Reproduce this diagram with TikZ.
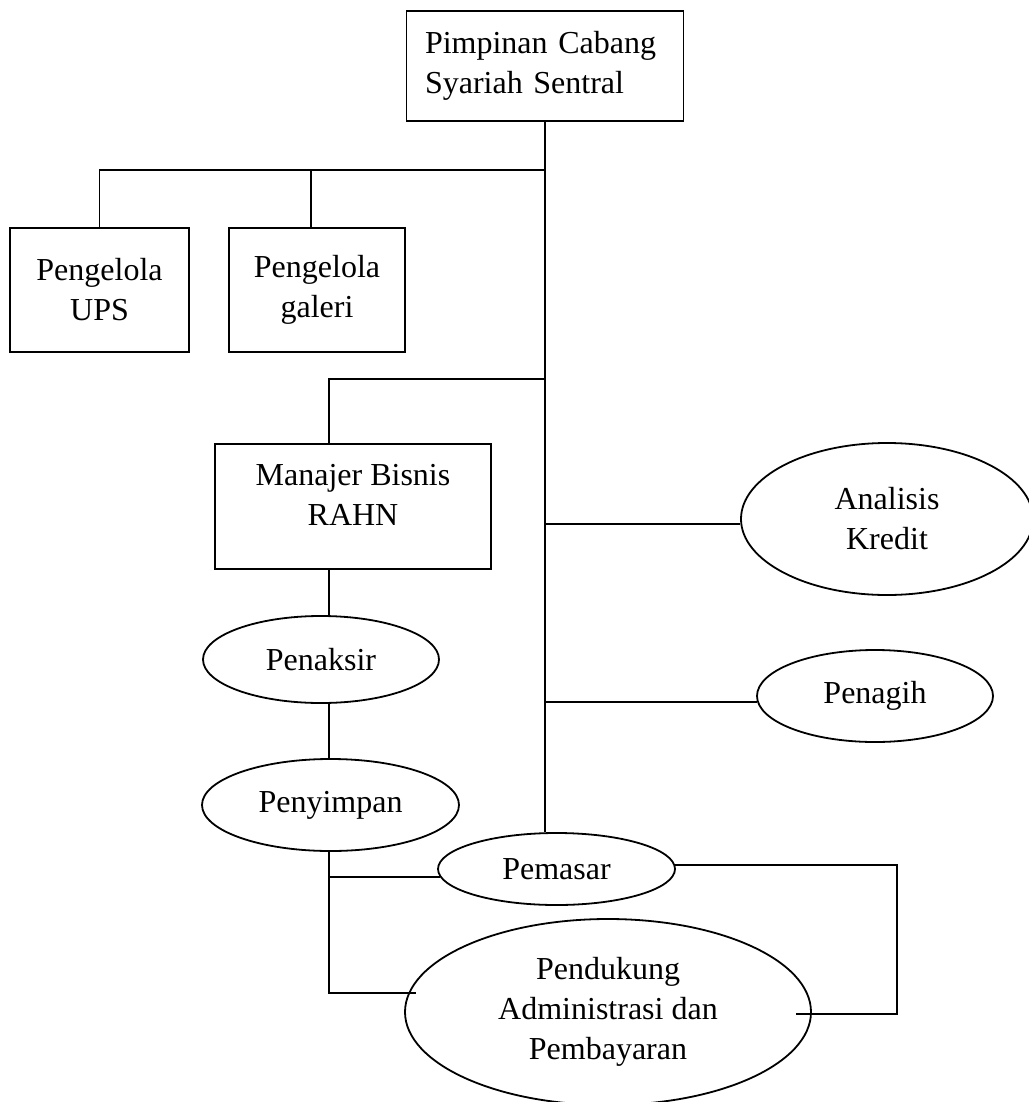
\documentclass[tikz,border=0pt]{standalone}
\usepackage{fontspec}
\setmainfont{Liberation Serif}
\usetikzlibrary{shapes.geometric}
\begin{document}
\begin{tikzpicture}[x=0.5pt,y=-0.5pt,line width=0.9pt,
  every node/.style={font=\fontsize{16}{20}\selectfont},
  box/.style={draw,rectangle,inner sep=0pt,align=center},
  oval/.style={draw,ellipse,inner sep=0pt,align=center}]
\useasboundingbox (0,0) rectangle (1028,1102);
% boxes
\node[box,minimum width=138.5pt,minimum height=55pt,text width=120pt,align=left] (top) at (545,66) {Pimpinan Cabang\\Syariah Sentral};
\node[box,minimum width=89.5pt,minimum height=62pt] (ups) at (99.5,290) {Pengelola\\UPS};
\node[box,minimum width=88pt,minimum height=62pt] (galeri) at (317,290) {Pengelola\\galeri};
\node[box,minimum width=138pt,minimum height=62.5pt,
  label={[name=mgrtext,align=center,yshift=5.75pt]center:Manajer Bisnis\\RAHN}] (mgr) at (353,506.5) {};
% ellipses
\node[oval,minimum width=118pt,minimum height=43.5pt] (penaksir) at (321,659.5) {Penaksir};
\node[oval,minimum width=128.5pt,minimum height=46pt] (penyimpan) at (330.5,805) {Penyimpan};
\node[oval,minimum width=118.5pt,minimum height=36pt] (pemasar) at (556.5,869) {Pemasar};
\node[oval,minimum width=203pt,minimum height=93pt] (pendukung) at (608,1012) {Pendukung\\Administrasi dan\\Pembayaran};
\node[oval,minimum width=146pt,minimum height=76pt] (analisis) at (887,519) {Analisis\\Kredit};
\node[oval,minimum width=118pt,minimum height=46pt] (penagih) at (875,696) {Penagih};
% helper coordinates
\coordinate (lx) at (329,0);
\coordinate (rc) at (897,0);
\coordinate (pl) at (416,993);
\coordinate (pr) at (796,1014);
\coordinate (j1) at (545,170);
\coordinate (j2) at (545,379);
% connectors
\draw (top.south) -- (top.south |- pemasar.north);
\draw (ups.north) |- (j1);
\draw ([xshift=-3pt]galeri.north) -- ([xshift=-3pt]galeri.north |- j1);
\draw (mgr.north -| lx) |- (j2);
\draw (mgr.south -| lx) -- (penaksir.north -| lx);
\draw (penaksir.south -| lx) -- (penyimpan.north -| lx);
\draw (penyimpan.south -| lx) |- (pl);
\draw (pemasar.184) -- (pemasar.184 -| lx);
\draw (pemasar.2) -| (rc |- pr) -- (pr);
\draw (analisis.182) -- (analisis.182 -| top.south);
\draw (penagih.183) -- (penagih.183 -| top.south);
\end{tikzpicture}
\end{document}
